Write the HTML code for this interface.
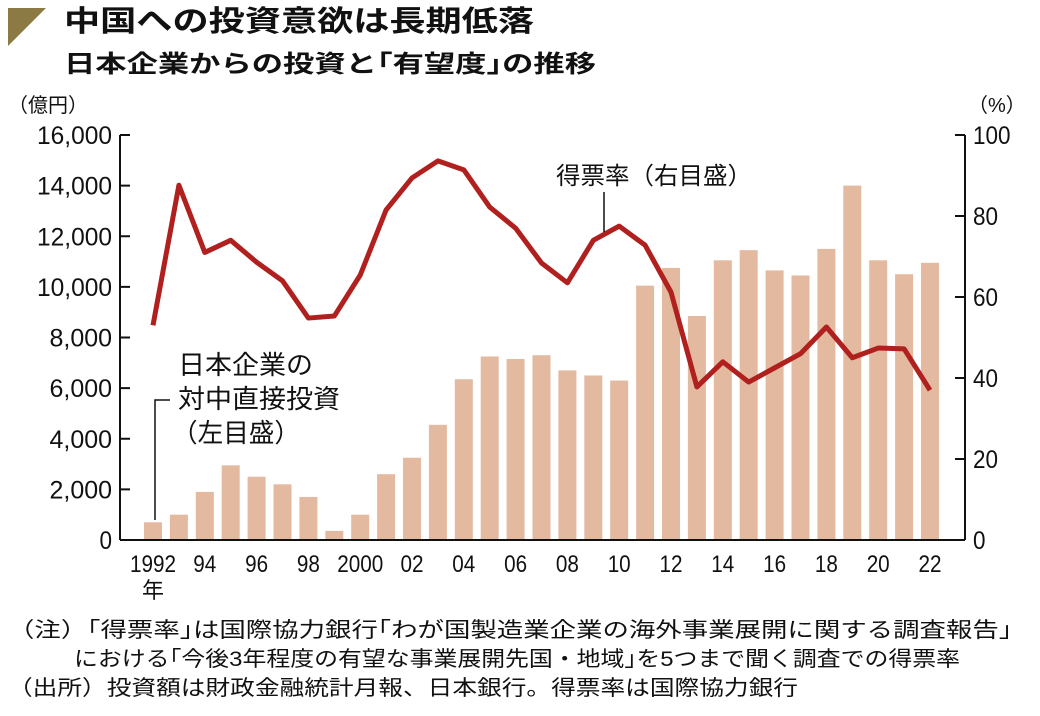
<!DOCTYPE html>
<html><head><meta charset="utf-8"><style>
body{margin:0;background:#fff;width:1040px;height:711px;overflow:hidden;font-family:"Liberation Sans","Noto Sans CJK JP",sans-serif;}
svg text{font-family:"Liberation Sans","Noto Sans CJK JP",sans-serif;}
</style></head><body>
<svg width="1040" height="711">
<polygon points="8,8 46,8 8,46" fill="#8c7a45"/>
<text x="64" y="31" font-size="29" font-weight="bold" fill="#111" textLength="470" lengthAdjust="spacingAndGlyphs">中国への投資意欲は長期低落</text>
<text x="64" y="72" font-size="24" font-weight="bold" fill="#111" textLength="532" lengthAdjust="spacingAndGlyphs">日本企業からの投資と｢有望度｣の推移</text>
<text x="8" y="112" font-size="20" fill="#111">（億円）</text>
<text x="968" y="112" font-size="20" fill="#111">（%）</text>
<g id="bars"></g><g id="axes"></g>
<path id="line" fill="none" stroke="#b0201e" stroke-width="5" stroke-linejoin="round"/>
<text x="556" y="184" font-size="24" fill="#111" textLength="196" lengthAdjust="spacingAndGlyphs">得票率（右目盛）</text>
<line x1="604" y1="192" x2="604" y2="232" stroke="#111" stroke-width="1.5"/>
<text x="178" y="374" font-size="26" fill="#111" textLength="135" lengthAdjust="spacingAndGlyphs">日本企業の</text>
<text x="178" y="408" font-size="26" fill="#111" textLength="162" lengthAdjust="spacingAndGlyphs">対中直接投資</text>
<text x="172" y="442" font-size="26" fill="#111" textLength="128" lengthAdjust="spacingAndGlyphs">（左目盛）</text>
<polyline points="170,400 155,400 155,520" fill="none" stroke="#111" stroke-width="1.5"/>
<text x="8" y="637" font-size="21" fill="#111" textLength="1004" lengthAdjust="spacingAndGlyphs">（注）｢得票率｣は国際協力銀行｢わが国製造業企業の海外事業展開に関する調査報告｣</text>
<text x="74" y="666" font-size="21" fill="#111" textLength="886" lengthAdjust="spacingAndGlyphs">における｢今後3年程度の有望な事業展開先国・地域｣を5つまで聞く調査での得票率</text>
<text x="8" y="695" font-size="21" fill="#111" textLength="790" lengthAdjust="spacingAndGlyphs">（出所）投資額は財政金融統計月報、日本銀行。得票率は国際協力銀行</text>
</svg>
<script>
const years=[1992,1993,1994,1995,1996,1997,1998,1999,2000,2001,2002,2003,2004,2005,2006,2007,2008,2009,2010,2011,2012,2013,2014,2015,2016,2017,2018,2019,2020,2021,2022];
const investment=[700,1000,1900,2950,2500,2200,1700,360,1000,2600,3250,4550,6350,7250,7150,7300,6700,6500,6300,10050,10750,8850,11050,11450,10650,10450,11500,14000,11050,10500,10950];
const voteRate=[53,87.6,71,74,68.6,64,54.8,55.3,65.4,81.5,89.4,93.6,91.4,82.2,77,68.4,63.5,74,77.5,72.8,61.2,37.8,44,39,42.5,46,52.6,45,47.4,47.2,37];
const leftTicks=[0,2000,4000,6000,8000,10000,12000,14000,16000];
const leftTickLabels=["0","2,000","4,000","6,000","8,000","10,000","12,000","14,000","16,000"];
const rightTicks=[0,20,40,60,80,100];
const xLabels=["1992","94","96","98","2000","02","04","06","08","10","12","14","16","18","20","22"];
const NS="http://www.w3.org/2000/svg";
const X0=120,X1=965,Y0=540,Y1=135;
const x=yr=>153+(yr-1992)*25.9;
const yL=v=>Y0-(v/16000)*(Y0-Y1);
const yR=v=>Y0-(v/100)*(Y0-Y1);
function mk(tag,attrs,parent,txt){const e=document.createElementNS(NS,tag);for(const k in attrs)e.setAttribute(k,attrs[k]);if(txt!==undefined)e.textContent=txt;parent.appendChild(e);return e;}
const bars=document.getElementById('bars'),axes=document.getElementById('axes');
years.forEach((yr,i)=>{const t=yL(investment[i]);const r=mk('rect',{x:x(yr)-9,y:t,width:18,height:Y0-t,fill:'#e3b9a0'},bars);

});
let l=mk('line',{x1:X0,y1:Y1,x2:X0,y2:Y0,stroke:'#111','stroke-width':2},axes);

l=mk('line',{x1:X1,y1:Y1,x2:X1,y2:Y0,stroke:'#111','stroke-width':2},axes);

l=mk('line',{x1:X0,y1:Y0,x2:X1,y2:Y0,stroke:'#111','stroke-width':2},axes);

leftTicks.forEach((v,i)=>{mk('line',{x1:X0,y1:yL(v),x2:X0+10,y2:yL(v),stroke:'#111','stroke-width':2},axes);
const t=mk('text',{x:X0-8,y:yL(v)+9,'font-size':25,'text-anchor':'end',fill:'#111',textLength:leftTickLabels[i].length*12.5,lengthAdjust:'spacingAndGlyphs'},axes,leftTickLabels[i]);
});
rightTicks.forEach(v=>{mk('line',{x1:X1-10,y1:yR(v),x2:X1,y2:yR(v),stroke:'#111','stroke-width':2},axes);
const t=mk('text',{x:X1+8,y:yR(v)+9,'font-size':25,fill:'#111',textLength:String(v).length*12.5,lengthAdjust:'spacingAndGlyphs'},axes,String(v));
});
xLabels.forEach((s,i)=>{const yr=1992+i*2;const t=mk('text',{x:x(yr),y:572,'font-size':24,'text-anchor':'middle',fill:'#111',textLength:s.length*11.5,lengthAdjust:'spacingAndGlyphs'},axes,s);
});
const yt=mk('text',{x:x(1992),y:598,'font-size':22,'text-anchor':'middle',fill:'#111'},axes,'年');

document.getElementById('line').setAttribute('d',years.map((yr,i)=>(i?'L':'M')+x(yr)+','+yR(voteRate[i])).join(' '));
</script>
</body></html>
